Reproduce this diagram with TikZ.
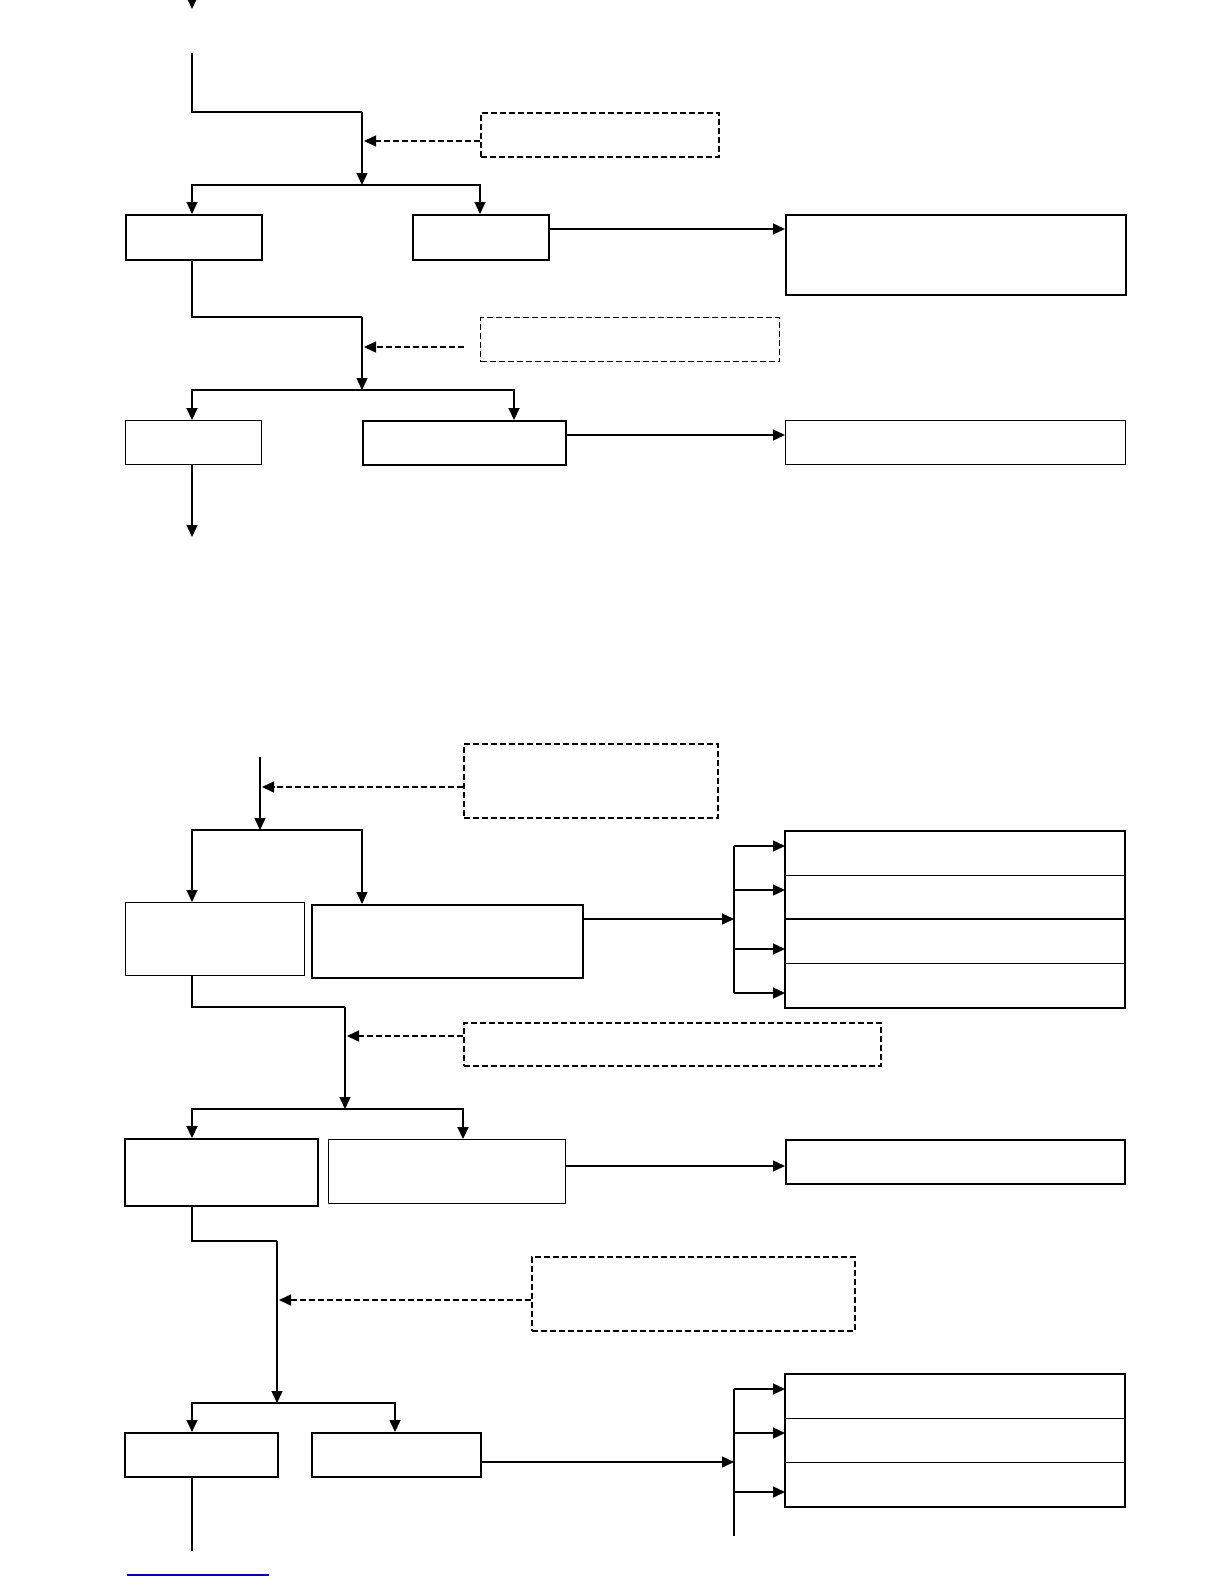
\documentclass[tikz,border=0pt]{standalone}
\usetikzlibrary{arrows.meta}
\begin{document}
\begin{tikzpicture}[x=1pt,y=-1pt,
  thinbox/.style={draw, line width=1.4pt, inner sep=0pt, anchor=north west, rectangle},
  thickbox/.style={draw, line width=2pt, inner sep=0pt, anchor=north west, rectangle},
  cellbox/.style={draw, line width=1.2pt, inner sep=0pt, anchor=north west, rectangle},
  notebox/.style={draw, dashed, dash pattern=on 6pt off 3pt, line width=1.7pt, inner sep=0pt, anchor=north west, rectangle},
  ln/.style={line width=1.4pt},
  lnthick/.style={line width=2pt},
  arr/.style={line width=1.4pt, -{Triangle[length=12pt,width=11pt]}},
  darr/.style={line width=1.5pt, dashed, dash pattern=on 6pt off 3pt, -{Triangle[length=12pt,width=11pt]}}
]
\useasboundingbox (0,0) rectangle (1224,1584);

% ================= upper section =================
\coordinate (top0) at (192,-8);
\coordinate (top1) at (192,9);
\draw[arr] (top0) -- (top1);

\coordinate (s0) at (192,53);
\coordinate (k1) at (362,112);
\coordinate (j1) at (362,185);
\draw[lnthick] (s0) |- (k1);
\draw[arr] (k1) -- (j1);

\node[notebox, minimum width=238pt, minimum height=44pt] (n1) at (480,112) {};
\coordinate (d1) at (364,141);
\draw[darr] (n1.west |- d1) -- (d1);

\node[thickbox, minimum width=136pt, minimum height=45pt] (a1) at (125,214) {};
\node[thickbox, minimum width=136pt, minimum height=45pt] (a2) at (412,214) {};
\node[thickbox, minimum width=340pt, minimum height=80pt] (a3) at (785,214) {};
\coordinate (a1n) at (192,214);
\coordinate (a2n) at (480,214);
\draw[arr] (j1) -| (a1n);
\draw[arr] (j1) -| (a2n);
\coordinate (ya) at (0,229);
\draw[arr] (a2.east |- ya) -- (a3.west |- ya);

\coordinate (a1s) at (192,259);
\coordinate (k2) at (362,317);
\coordinate (j2) at (362,390);
\draw[ln] (a1s) |- (k2);
\draw[arr] (k2) -- (j2);

\node[notebox, line width=1.3pt, minimum width=299pt, minimum height=44pt] (n2) at (480,317) {};
\coordinate (d2s) at (464,347);
\coordinate (d2) at (364,347);
\draw[darr] (d2s) -- (d2);

\node[thinbox, minimum width=136pt, minimum height=44pt] (b1) at (125,420) {};
\node[thinbox, line width=1.6pt, minimum width=203pt, minimum height=44pt] (b2) at (362,420) {};
\node[thinbox, minimum width=340pt, minimum height=44pt] (b3) at (785,420) {};
\coordinate (b1n) at (192,420);
\coordinate (b2n) at (514,420);
\draw[arr, line width=2pt] (j2) -| (b1n);
\draw[arr, line width=2pt] (j2) -| (b2n);
\coordinate (yb) at (0,435);
\draw[arr] (b2.east |- yb) -- (b3.west |- yb);

\coordinate (b1s) at (192,464);
\coordinate (bend1) at (192,537);
\draw[arr] (b1s) -- (bend1);

% ================= lower section =================
\coordinate (s1) at (260,757);
\coordinate (j3) at (260,830);
\draw[arr] (s1) -- (j3);

\node[notebox, minimum width=254pt, minimum height=74pt] (n3) at (463,743) {};
\coordinate (d3) at (262,787);
\draw[darr] (n3.west |- d3) -- (d3);

\node[thinbox, minimum width=179pt, minimum height=73pt] (c1) at (125,902) {};
\node[thickbox, minimum width=271pt, minimum height=73pt] (c2) at (311,904) {};
\coordinate (c1n) at (192,902);
\coordinate (c2n) at (362,904);
\draw[arr] (j3) -| (c1n);
\draw[arr] (j3) -| (c2n);

% stack D
\node[cellbox, minimum width=339pt, minimum height=44pt] (dd1) at (785,831) {};
\node[cellbox, minimum width=339pt, minimum height=44pt] (dd2) at (785,875) {};
\node[cellbox, minimum width=339pt, minimum height=44pt] (dd3) at (785,919) {};
\node[cellbox, minimum width=339pt, minimum height=44pt] (dd4) at (785,963) {};
\draw[line width=1.9pt] (dd1.north west) rectangle (dd4.south east);
\draw[line width=1.9pt] (dd3.north west) -- (dd3.north east);

\coordinate (bus1) at (734,919);
\draw[arr] (c2.east |- bus1) -- (bus1);
\coordinate (bus1t) at (734,846);
\coordinate (bus1b) at (734,993);
\draw[ln] (bus1t) -- (bus1b);
\draw[arr] (bus1t) -- (bus1t -| dd1.west);
\draw[arr] (734,890) -- (dd2.west |- 0,890);
\draw[arr] (734,949) -- (dd3.west |- 0,949);
\draw[arr] (bus1b) -- (bus1b -| dd4.west);

\coordinate (k4) at (345,1007);
\coordinate (j4) at (345,1109);
\coordinate (c1s) at (192,975);
\draw[ln] (c1s) |- (k4);
\draw[arr] (k4) -- (j4);

\node[notebox, minimum width=417pt, minimum height=43pt] (n4) at (463,1022) {};
\coordinate (d4) at (347,1036);
\draw[darr] (n4.west |- d4) -- (d4);

\node[thickbox, line width=2.4pt, minimum width=193pt, minimum height=67pt] (e1) at (124,1138) {};
\node[thinbox, minimum width=237pt, minimum height=64pt] (e2) at (328,1139) {};
\node[thinbox, line width=1.6pt, minimum width=339pt, minimum height=44pt] (e3) at (785,1139) {};
\coordinate (e1n) at (192,1138);
\coordinate (e2n) at (463,1139);
\draw[arr, line width=2pt] (j4) -| (e1n);
\draw[arr, line width=2pt] (j4) -| (e2n);
\coordinate (ye) at (0,1166);
\draw[arr] (e2.east |- ye) -- (e3.west |- ye);

\coordinate (e1s) at (192,1206);
\coordinate (k5) at (277,1241);
\coordinate (j5) at (277,1403);
\draw[ln] (e1s) |- (k5);
\draw[arr] (k5) -- (j5);

\node[notebox, minimum width=323pt, minimum height=74pt] (n5) at (531,1256) {};
\coordinate (d5) at (279,1300);
\draw[darr] (n5.west |- d5) -- (d5);

\node[thickbox, minimum width=153pt, minimum height=44pt] (f1) at (124,1432) {};
\node[thickbox, minimum width=169pt, minimum height=44pt] (f2) at (311,1432) {};
\coordinate (f1n) at (192,1432);
\coordinate (f2n) at (395,1432);
\draw[arr] (j5) -| (f1n);
\draw[arr] (j5) -| (f2n);

% stack G
\node[cellbox, minimum width=339pt, minimum height=44pt] (g1) at (785,1374) {};
\node[cellbox, minimum width=339pt, minimum height=44pt] (g2) at (785,1418) {};
\node[cellbox, minimum width=339pt, minimum height=44pt] (g3) at (785,1462) {};
\draw[line width=1.9pt] (g1.north west) rectangle (g3.south east);

\coordinate (bus2) at (734,1462);
\draw[arr] (f2.east |- bus2) -- (bus2);
\coordinate (bus2t) at (734,1389);
\coordinate (bus2b) at (734,1536);
\draw[ln] (bus2t) -- (bus2b);
\draw[arr] (bus2t) -- (bus2t -| g1.west);
\draw[arr] (734,1433) -- (g2.west |- 0,1433);
\draw[arr] (734,1492) -- (g3.west |- 0,1492);

\coordinate (f1s) at (192,1476);
\coordinate (endl) at (192,1551);
\draw[ln] (f1s) -- (endl);

% blue underline at page foot
\draw[blue!70!black, line width=1.2pt] (127,1575) -- (269,1575);
\end{tikzpicture}
\end{document}
